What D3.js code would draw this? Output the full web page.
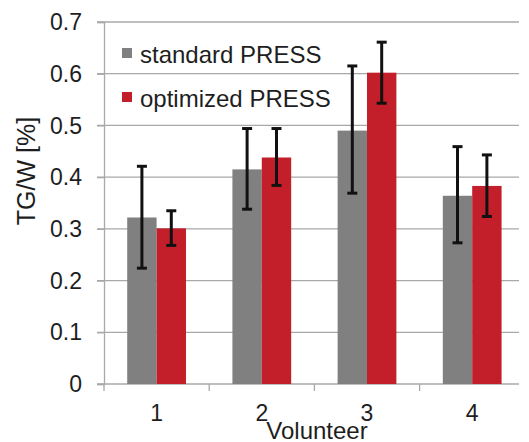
<!DOCTYPE html>
<html>
<head>
<meta charset="utf-8">
<script src="https://cdn.jsdelivr.net/npm/d3@7"></script>
<style>
  body { margin: 0; background: #fff; }
  text { font-family: "Liberation Sans", Arial, sans-serif; fill: #1e1e1e; }
</style>
</head>
<body>
<div id="chart"></div>
<script>
// volunteers on the x axis
const categories = ["1", "2", "3", "4"];
const seriesNames = ["standard PRESS", "optimized PRESS"];

// mean TG/W values
const standardMean = [0.322, 0.415, 0.490, 0.364];
const optimizedMean = [0.301, 0.438, 0.602, 0.383];

// error bar ends (low / high)
const standardLow = [0.224, 0.338, 0.369, 0.273];
const standardHigh = [0.421, 0.494, 0.615, 0.459];
const optimizedLow = [0.268, 0.384, 0.543, 0.324];
const optimizedHigh = [0.335, 0.494, 0.661, 0.443];

const yTicks = [0, 0.1, 0.2, 0.3, 0.4, 0.5, 0.6, 0.7];

const width = 529;
const height = 442;
const colors = ["#808080", "#c21f2b"];

// build rows for each bar
const rows = [];
categories.forEach((c, i) => {
  rows.push({ cat: c, s: seriesNames[0], v: standardMean[i], lo: standardLow[i], hi: standardHigh[i] });
  rows.push({ cat: c, s: seriesNames[1], v: optimizedMean[i], lo: optimizedLow[i], hi: optimizedHigh[i] });
});

const svg = d3.select("#chart")
  .append("svg")
  .attr("width", width)
  .attr("height", height);

const plot = { left: 104, right: 519, top: 22, bottom: 384 };

const y = d3.scaleLinear().domain([0, 0.7]).range([plot.bottom, plot.top]);
const x0 = d3.scaleBand().domain(categories).range([plot.left, plot.left + 4 * 105.2]);
const x1 = d3.scaleBand().domain(seriesNames).range([0, x0.bandwidth()]).paddingOuter(0.79);
const color = d3.scaleOrdinal().domain(seriesNames).range(colors);

// gridlines
svg.append("g")
  .selectAll("line")
  .data(yTicks.slice(1))
  .enter()
  .append("line")
  .attr("x1", plot.left - 7)
  .attr("x2", plot.right)
  .attr("y1", d => y(d))
  .attr("y2", d => y(d))
  .attr("stroke", "#a8a8a8")
  .attr("stroke-width", 1.3);

// y axis
const yAxis = svg.append("g")
  .attr("transform", `translate(${plot.left},0)`)
  .call(d3.axisLeft(y).tickValues(yTicks).tickSize(7).tickFormat(d => d === 0 ? "0" : d3.format(".1f")(d)));
yAxis.select(".domain").attr("stroke", "#a8a8a8").attr("stroke-width", 1.3);
yAxis.selectAll(".tick line").attr("stroke", "#a8a8a8").attr("stroke-width", 1.3);
yAxis.selectAll(".tick text")
  .attr("x", -22)
  .attr("dy", "0.33em")
  .style("font-size", "23px")
  .style("font-family", "Liberation Sans, Arial, sans-serif")
  .attr("fill", "#1e1e1e");

// x axis baseline and ticks at band edges
svg.append("line")
  .attr("x1", plot.left - 7)
  .attr("x2", plot.right)
  .attr("y1", plot.bottom)
  .attr("y2", plot.bottom)
  .attr("stroke", "#a8a8a8")
  .attr("stroke-width", 1.3);

svg.append("g")
  .selectAll("line")
  .data(categories)
  .enter()
  .append("line")
  .attr("x1", d => x0(d))
  .attr("x2", d => x0(d))
  .attr("y1", plot.bottom)
  .attr("y2", plot.bottom + 7)
  .attr("stroke", "#a8a8a8")
  .attr("stroke-width", 1.3);

svg.append("g")
  .selectAll("text")
  .data(categories)
  .enter()
  .append("text")
  .attr("x", d => x0(d) + x0.bandwidth() / 2)
  .attr("y", 421)
  .attr("text-anchor", "middle")
  .style("font-size", "23px")
  .text(d => d);

// bars
svg.append("g")
  .selectAll("rect")
  .data(rows)
  .enter()
  .append("rect")
  .attr("x", d => x0(d.cat) + x1(d.s))
  .attr("y", d => y(d.v))
  .attr("width", x1.bandwidth())
  .attr("height", d => y(0) - y(d.v))
  .attr("fill", d => color(d.s));

// error bars
const err = svg.append("g")
  .selectAll("g")
  .data(rows)
  .enter()
  .append("g")
  .attr("stroke", "#111")
  .attr("stroke-width", 3);

const cx = d => x0(d.cat) + x1(d.s) + x1.bandwidth() / 2;

err.append("line")
  .attr("x1", cx).attr("x2", cx)
  .attr("y1", d => y(d.lo)).attr("y2", d => y(d.hi));
err.append("line")
  .attr("x1", d => cx(d) - 5).attr("x2", d => cx(d) + 5)
  .attr("y1", d => y(d.hi)).attr("y2", d => y(d.hi));
err.append("line")
  .attr("x1", d => cx(d) - 5).attr("x2", d => cx(d) + 5)
  .attr("y1", d => y(d.lo)).attr("y2", d => y(d.lo));

// legend
const legend = svg.append("g")
  .selectAll("g")
  .data(seriesNames)
  .enter()
  .append("g")
  .attr("transform", (d, i) => `translate(122, ${48 + i * 44})`);

legend.append("rect")
  .attr("width", 10)
  .attr("height", 10)
  .attr("fill", d => color(d));

legend.append("text")
  .attr("x", 18)
  .attr("y", 15)
  .style("font-size", "24px")
  .text(d => d);

// axis titles
svg.append("text")
  .attr("x", 317)
  .attr("y", 439)
  .attr("text-anchor", "middle")
  .style("font-size", "24px")
  .text("Volunteer");

svg.append("text")
  .attr("transform", "translate(35, 171) rotate(-90)")
  .attr("text-anchor", "middle")
  .style("font-size", "25px")
  .text("TG/W [%]");
</script>
</body>
</html>
